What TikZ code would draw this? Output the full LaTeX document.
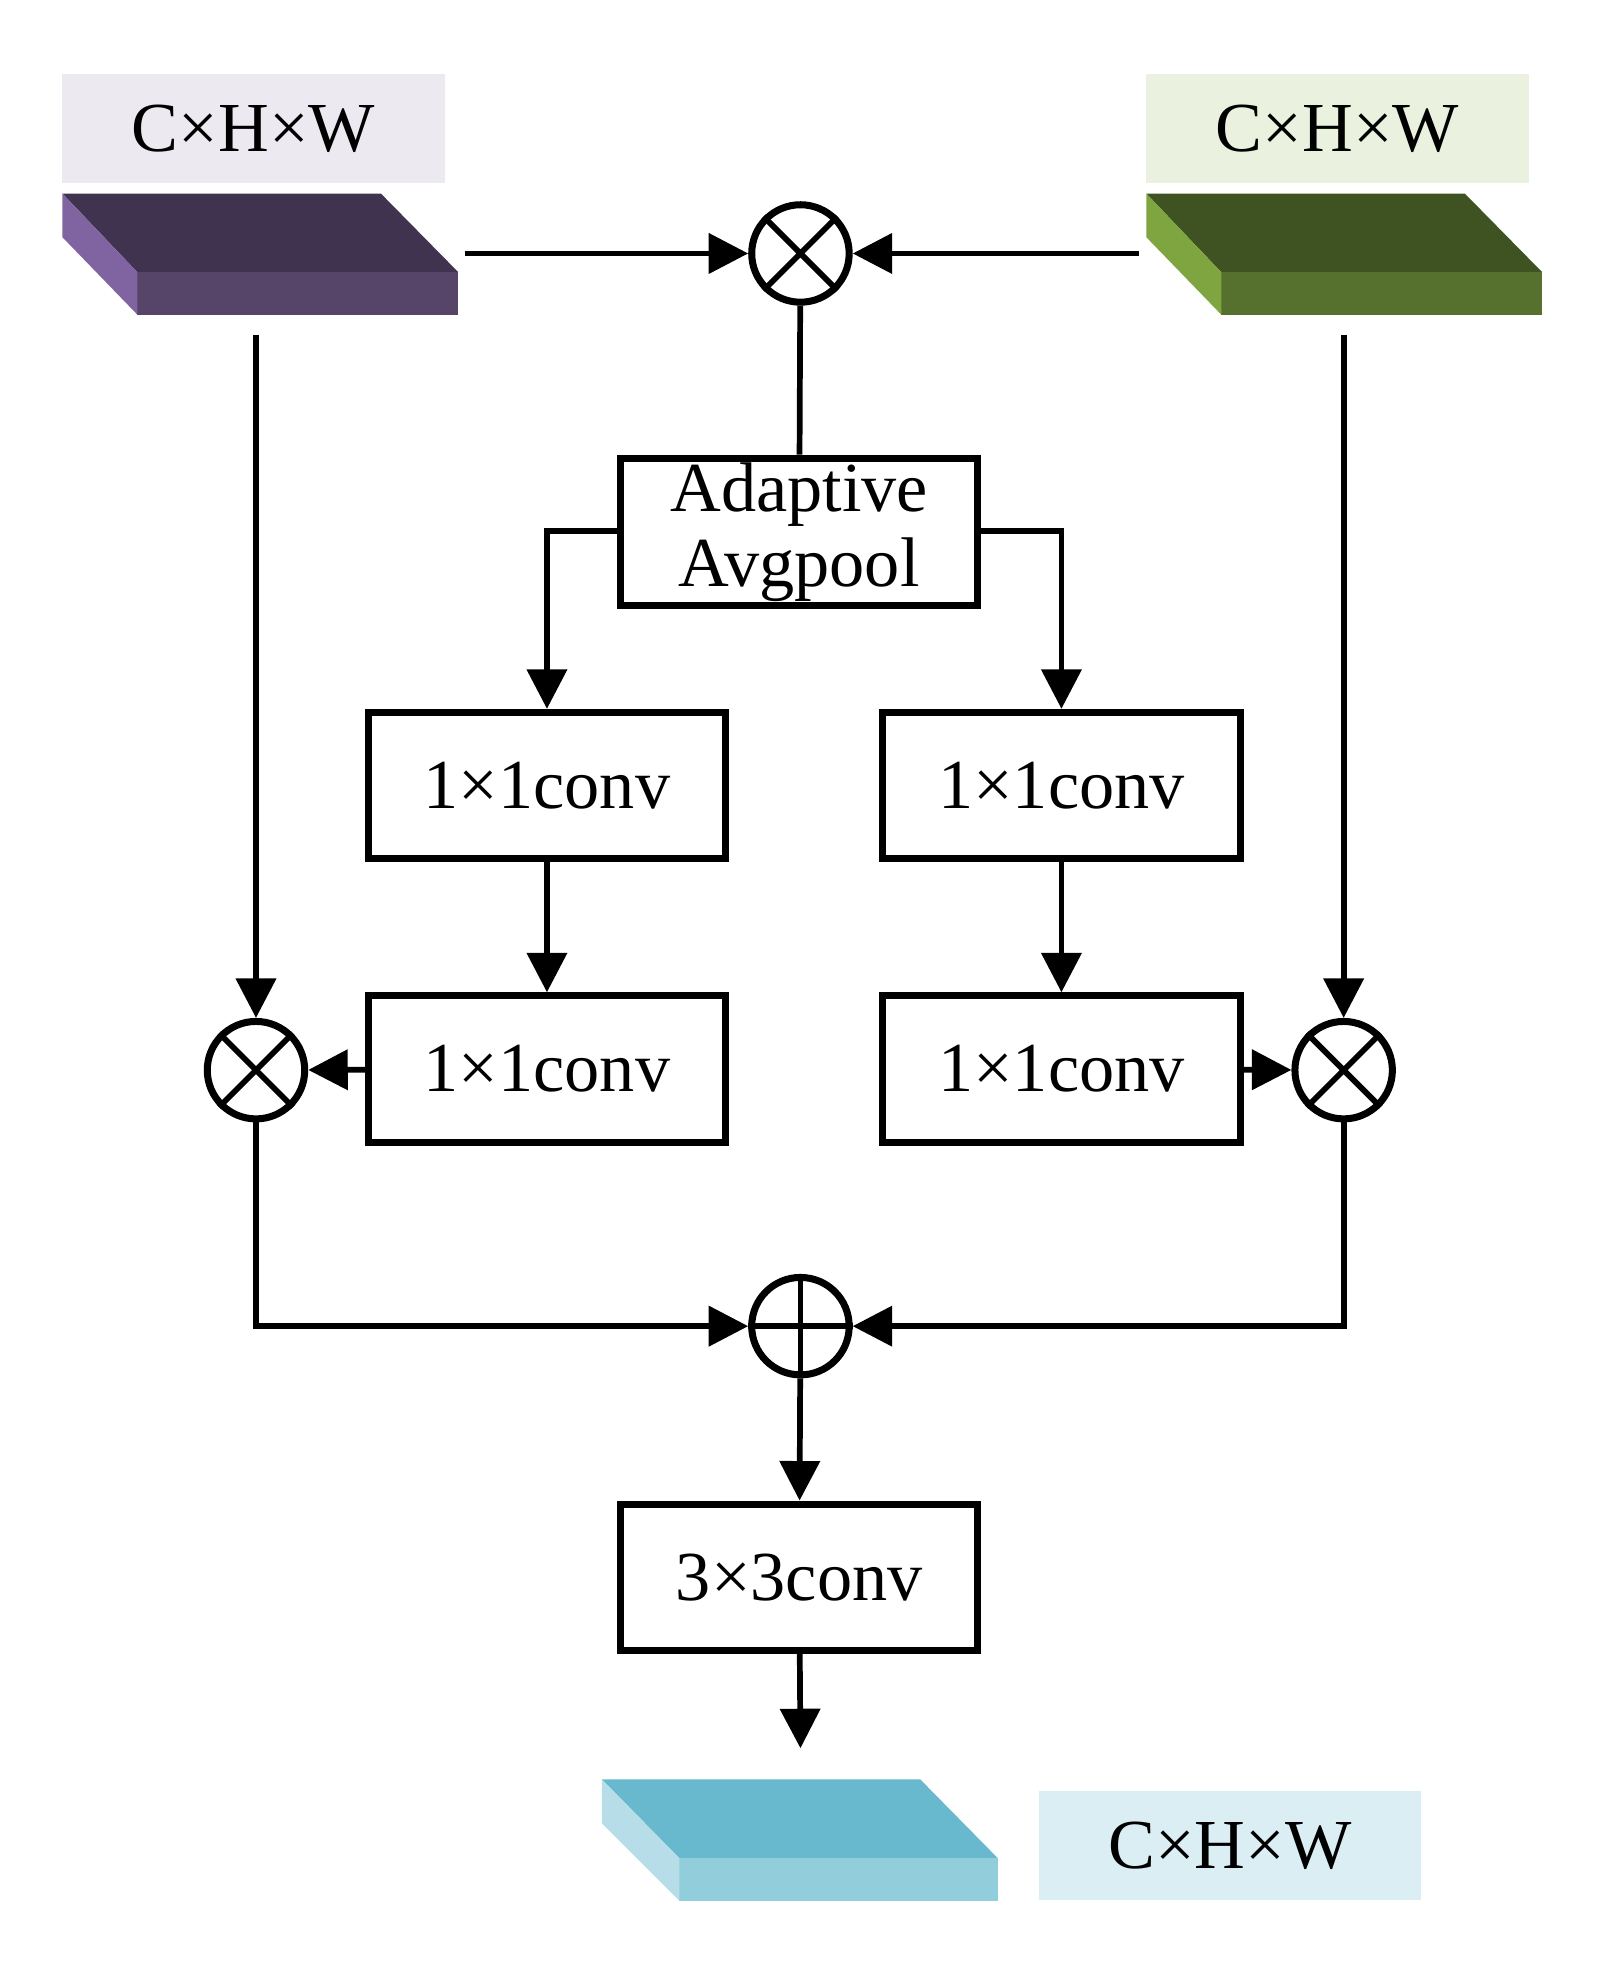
\documentclass[tikz,border=0pt]{standalone}
\usepackage{fontspec}
\setmainfont{Liberation Serif}
\usetikzlibrary{arrows.meta}
\definecolor{lavlabel}{HTML}{ECE9F0}
\definecolor{greenlabel}{HTML}{EAF1DE}
\definecolor{cyanlabel}{HTML}{DAEEF3}
\definecolor{purtop}{HTML}{3F3350}
\definecolor{purfront}{HTML}{574569}
\definecolor{purside}{HTML}{8064A2}
\definecolor{grntop}{HTML}{3F5222}
\definecolor{grnfront}{HTML}{56702E}
\definecolor{grnside}{HTML}{7FA540}
\definecolor{cyntop}{HTML}{68B9CE}
\definecolor{cynfront}{HTML}{92CDDC}
\definecolor{cynside}{HTML}{B7DEE8}
\begin{document}
\begin{tikzpicture}[x=0.01cm,y=-0.01cm]

% definitions
\tikzstyle{label} = [rectangle, minimum width=3.06cm, minimum height=0.87cm, inner sep=0, text centered, font=\fontsize{16}{19}\selectfont]
\tikzstyle{block} = [rectangle, minimum width=2.86cm, minimum height=1.17cm, inner sep=0, text centered, draw=black, line width=1.6pt, font=\fontsize{16}{19}\selectfont]
\tikzstyle{op} = [circle, minimum size=0.78cm, inner sep=0, draw=black, line width=1.6pt]
\tikzstyle{arrow} = [-{Triangle[length=9pt,width=9pt]}, line width=1.3pt]
\tikzstyle{line} = [line width=1.3pt]

\useasboundingbox (0,0) rectangle (1280,1580);

% feature maps
\node (lab1) [label, fill=lavlabel] at (203,103) {C×H×W};
\node (lab2) [label, fill=greenlabel] at (1071,103) {C×H×W};
\node (lab3) [label, fill=cyanlabel] at (985,1478) {C×H×W};

\fill[purtop] (50,155) -- (305,155) -- (367,218) -- (110,218) -- cycle;
\fill[purfront] (110,218) rectangle (367,252);
\fill[purside] (50,155) -- (110,218) -- (110,252) -- (50,190) -- cycle;
\fill[grntop] (918,155) -- (1173,155) -- (1235,218) -- (978,218) -- cycle;
\fill[grnfront] (978,218) rectangle (1235,252);
\fill[grnside] (918,155) -- (978,218) -- (978,252) -- (918,190) -- cycle;
\fill[cyntop] (482,1425) -- (737,1425) -- (799,1488) -- (544,1488) -- cycle;
\fill[cynfront] (544,1488) rectangle (799,1522);
\fill[cynside] (482,1425) -- (544,1488) -- (544,1522) -- (482,1460) -- cycle;

\coordinate (in1) at (372,203);
\coordinate (in2) at (912,203);
\coordinate (down1) at (205,268);
\coordinate (down2) at (1076,268);
\coordinate (out) at (641,1400);

% the graph
\node (mul0) [op] at (641,203) {};
\node (pool) [block, minimum height=1.18cm, font=\fontsize{16}{17}\selectfont, align=center] at (640,426) {Adaptive\\Avgpool};
\node (c1) [block] at (438,629) {1×1conv};
\node (c2) [block] at (850,629) {1×1conv};
\node (c3) [block] at (438,856) {1×1conv};
\node (c4) [block] at (850,856) {1×1conv};
\node (mul1) [op] at (205,857) {};
\node (mul2) [op] at (1076,857) {};
\node (add) [op] at (641,1062) {};
\node (c5) [block] at (640,1263) {3×3conv};

\foreach \m in {mul0,mul1,mul2}
  \draw [line] (\m.north west) -- (\m.south east) (\m.north east) -- (\m.south west);
\draw [line] (add.north) -- (add.south) (add.west) -- (add.east);

\draw [arrow] (in1) -- (mul0);
\draw [arrow] (in2) -- (mul0);
\draw [line] (mul0) -- (pool);
\draw [arrow] (pool.west |- 0,425) -| (c1.north);
\draw [arrow] (pool.east |- 0,425) -| (c2.north);
\draw [arrow] (c1) -- (c3);
\draw [arrow] (c2) -- (c4);
\draw [arrow] (c3) -- (mul1);
\draw [arrow] (c4) -- (mul2);
\draw [arrow] (down1) -- (mul1);
\draw [arrow] (down2) -- (mul2);
\draw [arrow] (mul1) |- (add);
\draw [arrow] (mul2) |- (add);
\draw [arrow] (add) -- (c5);
\draw [arrow] (c5) -- (out);

\end{tikzpicture}
\end{document}
